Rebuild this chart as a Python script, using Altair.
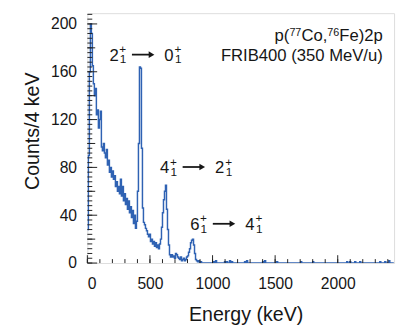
import altair as alt
import pandas as pd

# ---------------- data ----------------
BIN_KEV = 8
# counts per bin, bins starting at 0 keV, every 8 keV up to 904 keV
low_counts = [
    28, 90, 160, 200, 192, 165, 150, 140, 146, 124,
    128, 113, 120, 127, 97, 94, 100, 92, 88, 95,
    82, 86, 76, 80, 72, 77, 70, 73, 64, 68,
    60, 64, 58, 70, 56, 64, 52, 58, 49, 54,
    45, 52, 42, 47, 38, 44, 33, 40, 29, 35,
    60, 100, 164, 163, 96, 46, 34, 32, 29, 27,
    24, 22, 24, 18, 20, 16, 18, 14, 17, 13,
    15, 12, 16, 20, 30, 42, 53, 60, 65, 45,
    28, 15, 7, 5, 7, 5, 6, 4, 8, 7,
    5, 4, 3, 5, 2, 3, 4, 2, 3, 5,
    6, 9, 12, 17, 19, 20, 15, 8, 3, 2,
    1, 2, 0, 1,
]
# isolated non-empty bins above 900 keV (all others are empty)
sparse_energy = [1008, 1024, 1096, 1112, 1136, 1152, 1256, 1272, 1400, 1416,
                 1512, 1704, 1800, 2072, 2096, 2136, 2176, 2336, 2376, 2408]
sparse_counts = [1, 2, 1, 1, 2, 1, 1, 2, 1, 2,
                 1, 1, 1, 1, 1, 1, 1, 1, 1, 2]
E_MAX = 2450

x_labels = [0, 500, 1000, 1500, 2000]
y_labels = [0, 40, 80, 120, 160, 200]
x_major_ticks = [0, 500, 1000, 1500, 2000]
x_minor_ticks = [e for e in range(0, 2450, 100)]
y_major_ticks = [0, 40, 80, 120, 160, 200]
y_mid_ticks = [20, 60, 100, 140, 180]
y_minor_ticks = [c for c in range(0, 209, 4)]

transitions_from = ["2", "4", "6"]
transitions_to = ["0", "2", "4"]
annot_energy = [176, 581, 822]
annot_counts = [169, 75, 27.5]

# ---------------- build tables ----------------
sparse = dict(zip(sparse_energy, sparse_counts))
rows = []
e = 0
i = 0
while e <= E_MAX:
    c = low_counts[i] if i < len(low_counts) else sparse.get(e, 0)
    rows.append({"E": e, "C": c})
    e += BIN_KEV
    i += 1
spec = pd.DataFrame(rows)

ann = pd.DataFrame({"E": annot_energy, "C": annot_counts,
                    "ini": transitions_from, "fin": transitions_to})

W, H = 313, 255
FONT = "Liberation Sans"
TXT = "#161616"
BLUE = "#2f62b3"

XS = alt.Scale(domain=[0, E_MAX], nice=False, zero=False)
YS = alt.Scale(domain=[0, 209], nice=False, zero=False)
XA = alt.Axis(values=x_labels, format="d", ticks=False, tickSize=0, domain=False, grid=False,
              labelFontSize=16, labelColor=TXT, labelPadding=13, labelFont=FONT,
              title="Energy (keV)", titleFontSize=20, titleFontWeight="normal",
              titleColor=TXT, titleFont=FONT, titleX=161.5, titleY=59,
              titleAlign="center", titleBaseline="alphabetic")
YA = alt.Axis(values=y_labels, format="d", ticks=False, tickSize=0, domain=False, grid=False,
              labelFontSize=16, labelColor=TXT, labelPadding=11, labelFont=FONT,
              title="Counts/4 keV", titleFontSize=20, titleFontWeight="normal",
              titleColor=TXT, titleFont=FONT, titleX=-49.8, titleY=120,
              titleAngle=270, titleAlign="center", titleBaseline="alphabetic")


def X(f):
    return alt.X(f, type="quantitative", scale=XS, axis=XA)


def Y(f):
    return alt.Y(f, type="quantitative", scale=YS, axis=YA)


line = alt.Chart(spec).mark_line(interpolate="step-after", color=BLUE,
                                 strokeWidth=1.5, clip=True).encode(x=X("E"), y=Y("C"))


def xticks(vals, length):
    return alt.Chart(pd.DataFrame({"v": vals})).mark_rule(
        color="#222", strokeWidth=1).encode(
        x=X("v"), y=alt.value(H), y2=alt.value(H - length))


def yticks(vals, length):
    return alt.Chart(pd.DataFrame({"v": vals})).mark_rule(
        color="#222", strokeWidth=1).encode(
        y=Y("v"), x=alt.value(0), x2=alt.value(length))


ticks = [xticks(x_minor_ticks, 4), xticks(x_major_ticks, 8),
         yticks(y_minor_ticks, 5), yticks(y_mid_ticks, 8), yticks(y_major_ticks, 10)]

base = alt.Chart(ann)


def ann_text(txt, size, dx, dy):
    enc = {"x": X("E"), "y": Y("C")}
    if txt in ("ini", "fin"):
        enc["text"] = alt.Text(f"{txt}:N")
    else:
        enc["text"] = alt.value(txt)
    return base.mark_text(align="left", baseline="alphabetic", fontSize=size,
                          font=FONT, color=TXT, dx=dx, dy=dy).encode(**enc)


annots = [
    ann_text("ini", 17, 0, 0),
    ann_text("+", 12, 10, -8),
    ann_text("1", 12, 10.5, 2.5),
    ann_text("fin", 17, 56, 0),
    ann_text("+", 12, 66.5, -8),
    ann_text("1", 12, 67, 2.5),
    base.mark_rule(color=TXT, strokeWidth=1.8, xOffset=23, x2Offset=41,
                   yOffset=-6.5, y2Offset=-6.5).encode(x=X("E"), x2="E", y=Y("C"), y2="C"),
    base.mark_point(shape="triangle-right", filled=True, size=45, color=TXT,
                    opacity=1, xOffset=43, yOffset=-6.5).encode(x=X("E"), y=Y("C")),
]

# top-right reaction label
lab = alt.Chart(pd.DataFrame({"E": [2360], "C1": [186], "C2": [169]}))


def lab_text(txt, size, dx, dy, yf):
    return lab.mark_text(align="right", baseline="alphabetic", fontSize=size,
                         font=FONT, color=TXT, dx=dx, dy=dy).encode(
        x=X("E"), y=Y(yf), text=alt.value(txt))


labels = [
    lab_text("Fe)2p", 17, 0, 0, "C1"),
    lab_text("76", 11, -44.4, -4.5, "C1"),
    lab_text("Co,", 17, -56.6, 0, "C1"),
    lab_text("77", 11, -83.1, -4.5, "C1"),
    lab_text("p(", 17, -95.3, 0, "C1"),
    lab_text("FRIB400 (350 MeV/u)", 17, 0, 0, "C2"),
]

chart = alt.layer(line, *ticks, *annots, *labels).properties(
    width=W, height=H,
    autosize=alt.AutoSizeParams(type="none"),
    padding={"left": 81, "top": 2, "right": 3, "bottom": 62},
).configure_view(stroke="#222", strokeWidth=1).configure(font=FONT)

chart.save("out.html", embed_options={"renderer": "svg", "actions": False})
